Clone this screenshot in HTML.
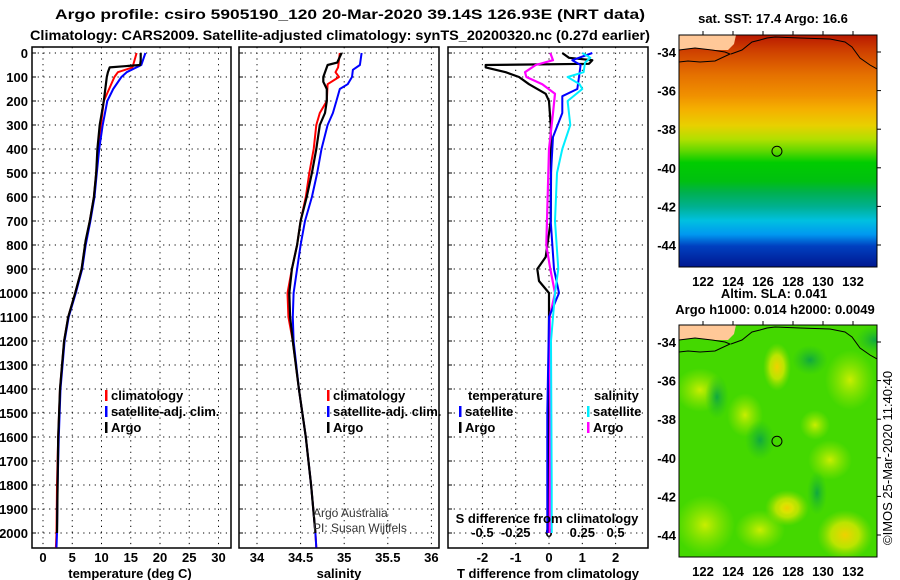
<!DOCTYPE html>
<html><head><meta charset="utf-8">
<style>
html,body{margin:0;padding:0;background:#fff;}
svg{display:block;font-family:"Liberation Sans",sans-serif;}
.b{font-weight:bold;font-size:13px;fill:#000;}
.t{font-weight:bold;font-size:14px;fill:#000;}
</style></head>
<body>
<svg id="fig" width="900" height="580" viewBox="0 0 900 580">
<text class="t" x="350" y="19" text-anchor="middle" textLength="590" lengthAdjust="spacingAndGlyphs">Argo profile: csiro 5905190_120 20-Mar-2020 39.14S 126.93E (NRT data)</text>
<text class="t" x="340" y="40" text-anchor="middle" textLength="620" lengthAdjust="spacingAndGlyphs">Climatology: CARS2009. Satellite-adjusted climatology: synTS_20200320.nc (0.27d earlier)</text>
<defs>
<linearGradient id="sstg" x1="0" y1="0" x2="0" y2="1">
<stop offset="0" stop-color="#b81800"/><stop offset="0.06" stop-color="#cc3c00"/>
<stop offset="0.11" stop-color="#d85400"/><stop offset="0.17" stop-color="#e57000"/>
<stop offset="0.26" stop-color="#f09000"/><stop offset="0.32" stop-color="#f5b000"/>
<stop offset="0.39" stop-color="#e8d000"/><stop offset="0.45" stop-color="#b0e000"/>
<stop offset="0.5" stop-color="#60d800"/><stop offset="0.55" stop-color="#00cc00"/>
<stop offset="0.63" stop-color="#00c010"/><stop offset="0.68" stop-color="#00b050"/>
<stop offset="0.74" stop-color="#00b090"/><stop offset="0.8" stop-color="#00c0e0"/>
<stop offset="0.86" stop-color="#0098f0"/><stop offset="0.91" stop-color="#0040c0"/>
<stop offset="1" stop-color="#001890"/>
</linearGradient>
<radialGradient id="yel"><stop offset="0" stop-color="#f0d000"/><stop offset="0.5" stop-color="#d8e800" stop-opacity="0.8"/><stop offset="1" stop-color="#9be000" stop-opacity="0"/></radialGradient>
<radialGradient id="ylg"><stop offset="0" stop-color="#c8ee00"/><stop offset="1" stop-color="#a0e800" stop-opacity="0"/></radialGradient>
<radialGradient id="dkg"><stop offset="0" stop-color="#10a840"/><stop offset="1" stop-color="#22c020" stop-opacity="0"/></radialGradient>
</defs>
<g id="plots"></g>
<g id="maps"></g>
<text x="313" y="517" font-size="12" fill="#333">Argo Australia</text>
<text x="313" y="532" font-size="12" fill="#333">PI: Susan Wijffels</text>
<text transform="translate(892,545) rotate(-90)" font-size="13" fill="#000">©IMOS 25-Mar-2020 11:40:40</text>
</svg>
<script>
// ---------- data ----------
const depthTicks=[0,100,200,300,400,500,600,700,800,900,1000,1100,1200,1300,1400,1500,1600,1700,1800,1900,2000];
const tempTicks=[0,5,10,15,20,25,30];
const salTicks=[34,34.5,35,35.5,36];
const salTickLabels=["34","34.5","35","35.5","36"];
const tdTicks=[-2,-1,0,1,2];
const sdTicks=[-0.5,-0.25,0,0.25,0.5];
const sdTickLabels=["-0.5","-0.25","0","0.25","0.5"];

const argoTP=[0,30,50,55,60,80,100,200,300,400,500,600,700,780,900,1000,1100,1200,1400,1600,1800,2000];
const argoT=[16.7,16.7,16.6,14,11.4,11.1,10.9,10.4,9.7,9.3,9.1,8.7,8.0,7.3,6.6,5.5,4.3,3.6,2.9,2.6,2.5,2.4];
const climTP=[0,60,80,100,150,200,300,400,500,600,700,800,900,1000,1100,1200,1400,1600,1800,2000,2060];
const climT=[16,15.3,12.8,12.2,11.3,10.4,9.9,9.4,9.1,8.7,8.0,7.2,6.6,5.5,4.3,3.6,2.9,2.6,2.4,2.3,2.2];
const satTP=[0,50,80,100,150,200,300,400,500,600,700,800,900,1000,1100,1200,1400,1600,1800,2000,2060];
const satT=[17.5,16.8,14.3,13.4,12,11,10.2,9.6,9.2,8.8,8.1,7.3,6.7,5.6,4.4,3.7,3.0,2.7,2.5,2.4,2.3];

const argoSP=[0,40,50,100,120,150,200,250,300,400,500,600,700,800,900,1000,1100,1200,1400,1600,1800,2000];
const argoS=[34.97,34.92,34.81,34.76,34.76,34.8,34.8,34.78,34.72,34.68,34.63,34.57,34.5,34.46,34.4,34.37,34.38,34.41,34.48,34.56,34.62,34.67];
const climSP=[0,60,80,100,130,200,250,300,400,500,600,700,800,900,1000,1100,1200,1400,1600,1800,2000,2060];
const climS=[34.95,34.93,34.9,34.94,34.81,34.8,34.72,34.68,34.65,34.6,34.56,34.5,34.46,34.4,34.35,34.36,34.41,34.48,34.56,34.62,34.67,34.68];
const satSP=[0,50,70,100,130,150,200,250,300,400,500,600,700,800,900,1000,1100,1200,1400,1600,1800,2000,2060];
const satS=[35.2,35.18,35.1,35.09,35.04,34.95,34.91,34.87,34.81,34.74,34.69,34.63,34.55,34.5,34.46,34.42,34.41,34.42,34.48,34.56,34.62,34.67,34.68];

const dTargoP=[0,20,30,45,50,60,80,100,130,170,200,300,500,700,850,900,950,1000,1100,1500,2000];
const dTargo=[0.4,0.6,1.3,1.2,-1.9,-1.9,-1.3,-0.9,-0.6,-0.1,0,0.05,0.06,0.05,-0.1,-0.35,-0.3,0,0,0,0];
const dTsatP=[0,30,50,100,150,180,250,350,500,700,900,1000,1100,1500,2000];
const dTsat=[1.3,0.7,0.95,0.9,0.85,0.4,0.4,0.12,0.06,0.05,0.15,0.3,0,-0.05,-0.05];
const dSargoP=[0,30,50,80,100,130,170,250,400,800,900,1000,1100,1500,2000];
const dSargo=[0.01,0.03,-0.1,-0.18,-0.17,-0.05,0.045,0.03,0,-0.02,0.01,0.045,0.005,0.01,0.005];
const dSsatP=[0,20,40,80,100,130,150,200,300,400,500,700,900,1000,1200,1800,2000];
const dSsat=[0.25,0.31,0.27,0.26,0.14,0.23,0.25,0.14,0.16,0.1,0.06,0.045,0.07,0.045,0.015,0.02,0.02];

// ---------- helpers ----------
const NS="http://www.w3.org/2000/svg";
function mk(tag,attrs,parent){const e=document.createElementNS(NS,tag);for(const k in attrs)e.setAttribute(k,attrs[k]);parent.appendChild(e);return e;}
const plots=document.getElementById('plots');
const yOf=d=>53+d*0.24;
const xT=t=>43+5.85*t;
const xS=s=>257+87.2*(s-34);
const xTD=d=>549+33.3*d;
const xSD=d=>549+133.2*d;
const panels=[{x0:32,x1:231,name:'temperature-panel'},{x0:239,x1:439,name:'salinity-panel'},{x0:448,x1:648,name:'difference-panel'}];
const TOP=47,BOT=548;

panels.forEach((p,i)=>{
  const g=mk('g',{},plots);
  
  
  depthTicks.forEach(d=>{
    const l=mk('line',{x1:p.x0,x2:p.x1,y1:yOf(d),y2:yOf(d),stroke:'#000','stroke-width':1,'stroke-dasharray':'1.2,4.5'},g);
    
    
    const tk=mk('line',{x1:p.x0,x2:p.x0+4,y1:yOf(d),y2:yOf(d),stroke:'#000'},g);
    
    
  });
  const fr=mk('rect',{x:p.x0,y:TOP,width:p.x1-p.x0,height:BOT-TOP,fill:'none',stroke:'#000','stroke-width':1.5},g);
  
  
});

depthTicks.forEach(d=>{
  const t=mk('text',{x:28,y:yOf(d)+5,'text-anchor':'end',class:'b'},plots);
  t.textContent=d;
  
  
});

function vgrid(vals,fx,labels,ly){
  vals.forEach((v,i)=>{
    const l=mk('line',{x1:fx(v),x2:fx(v),y1:TOP,y2:BOT,stroke:'#000','stroke-dasharray':'1.2,4.5'},plots);
    
    
    if(labels){
      const t=mk('text',{x:fx(v),y:ly,'text-anchor':'middle',class:'b'},plots);
      t.textContent=labels[i];
      
      
    }
  });
}
vgrid(tempTicks,xT,tempTicks.map(String),562);
vgrid(salTicks,xS,salTickLabels,562);
vgrid(tdTicks,xTD,tdTicks.map(String),562);
sdTicks.forEach((v,i)=>{
  const t=mk('text',{x:xSD(v),y:537,'text-anchor':'middle',class:'b'},plots);
  t.textContent=sdTickLabels[i];
  
  
});

function line(P,V,fx,color,w,name){
  const pts=P.map((d,i)=>fx(V[i]).toFixed(1)+','+yOf(d).toFixed(1)).join(' ');
  const l=mk('polyline',{points:pts,fill:'none',stroke:color,'stroke-width':w,'stroke-linejoin':'round'},plots);
  
  
}
line(climTP,climT,xT,'#ff0000',2,'temp-climatology-line');
line(satTP,satT,xT,'#0000ff',2,'temp-satellite-line');
line(argoTP,argoT,xT,'#000',2.2,'temp-argo-line');
line(climSP,climS,xS,'#ff0000',2,'sal-climatology-line');
line(satSP,satS,xS,'#0000ff',2,'sal-satellite-line');
line(argoSP,argoS,xS,'#000',2.2,'sal-argo-line');
line(dTargoP,dTargo,xTD,'#000',2.2,'tdiff-argo-line');
line(dSargoP,dSargo,xSD,'#ff00ff',2.2,'sdiff-argo-line');
line(dTsatP,dTsat,xTD,'#0000ff',2,'tdiff-satellite-line');
line(dSsatP,dSsat,xSD,'#00eeff',2,'sdiff-satellite-line');

function leg(x,y,color,label,name){
  if(color){const r=mk('rect',{x:x,y:y-10,width:2.5,height:11,fill:color},plots);
    
    }
  const t=mk('text',{x:x+6,y:y,class:'b'},plots);
  t.textContent=label;
  
  
}
leg(105,400,'#ff0000','climatology','legend-climatology');
leg(105,416,'#0000ff','satellite-adj. clim.','legend-satellite');
leg(105,432,'#000','Argo','legend-argo');
leg(327,400,'#ff0000','climatology','legend-climatology-2');
leg(327,416,'#0000ff','satellite-adj. clim.','legend-satellite-2');
leg(327,432,'#000','Argo','legend-argo-2');
leg(462,400,null,'temperature','legend-temperature-heading');
leg(459,416,'#0000ff','satellite','legend-t-satellite');
leg(459,432,'#000','Argo','legend-t-argo');
leg(588,400,null,'salinity','legend-salinity-heading');
leg(587,416,'#00eeff','satellite','legend-s-satellite');
leg(587,432,'#ff00ff','Argo','legend-s-argo');

function txt(x,y,s,name,anchor){const t=mk('text',{x:x,y:y,class:'b','text-anchor':anchor||'middle'},plots);t.textContent=s;
  
  }
txt(547,523,'S difference from climatology','s-diff-axis-title');
txt(130,578,'temperature (deg C)','temp-axis-title');
txt(339,578,'salinity','sal-axis-title');
txt(548,578,'T difference from climatology','t-diff-axis-title');

// ---------- maps ----------
const maps=document.getElementById('maps');
const lonTicks=[122,124,126,128,130,132];
const latTicks=[-34,-36,-38,-40,-42,-44];
const lonX=l=>679+(l-120.4)*15;
const latY=(l,oy)=>oy+52+(-34-l)*19.3;
function drawMap(oy,kind){
  const g=mk('g',{},maps);
  
  
  const cp=mk('clipPath',{id:'cp'+kind},g);
  mk('rect',{x:679,y:oy+35,width:198,height:232},cp);
  const inner=mk('g',{'clip-path':'url(#cp'+kind+')'},g);
  if(kind==='sst'){
    mk('rect',{x:679,y:oy+35,width:198,height:232,fill:'url(#sstg)'},inner);
  } else {
    mk('rect',{x:679,y:oy+35,width:198,height:232,fill:'#44d800'},inner);
    [[705,oy+235,30,30,'ylg'],[700,oy+100,25,22,'ylg'],[850,oy+90,25,30,'ylg'],[845,oy+245,28,25,'yel'],[745,oy+125,18,22,'ylg'],[830,oy+170,22,20,'ylg'],[815,oy+135,15,15,'ylg'],[760,oy+240,25,20,'ylg']].forEach(b=>mk('ellipse',{cx:b[0],cy:b[1],rx:b[2],ry:b[3],fill:'url(#'+b[4]+')'},inner));
    [[777,oy+77,14,24,'yel'],[787,oy+218,22,18,'yel'],[787,oy+218,12,10,'yel']].forEach(b=>mk('ellipse',{cx:b[0],cy:b[1],rx:b[2],ry:b[3],fill:'url(#'+b[4]+')'},inner));
    [[717,oy+107,12,22,'dkg'],[817,oy+203,10,22,'dkg'],[875,oy+50,20,15,'dkg'],[760,oy+150,15,20,'dkg'],[810,oy+70,18,15,'dkg']].forEach(b=>mk('ellipse',{cx:b[0],cy:b[1],rx:b[2],ry:b[3],fill:'url(#'+b[4]+')'},inner));
  }
  const land=mk('polygon',{points:`679,${oy+35} 736,${oy+35} 734,${oy+44} 728,${oy+50} 715,${oy+50} 695,${oy+48} 679,${oy+50}`,fill:'#ffc898'},inner);
  
  
  const coast=mk('polyline',{points:`679,${oy+50} 695,${oy+48} 712,${oy+50} 725,${oy+52} 730,${oy+54} 715,${oy+61} 700,${oy+62} 688,${oy+61} 679,${oy+62}`,fill:'none',stroke:'#000','stroke-width':1},inner);
  
  
  const coast2=mk('polyline',{points:`731,${oy+54} 742,${oy+50} 752,${oy+42} 760,${oy+40} 767,${oy+38} 775,${oy+37} 800,${oy+38} 830,${oy+39} 845,${oy+42} 852,${oy+47} 860,${oy+58} 870,${oy+65} 877,${oy+69}`,fill:'none',stroke:'#000','stroke-width':1},inner);
  
  
  const c=mk('circle',{cx:lonX(126.93),cy:latY(-39.14,oy),r:5,fill:'none',stroke:'#000','stroke-width':1},g);
  
  
  const f=mk('rect',{x:679,y:oy+35,width:198,height:232,fill:'none',stroke:'#000','stroke-width':1},g);
  
  
  lonTicks.forEach(l=>{
    mk('line',{x1:lonX(l),x2:lonX(l),y1:oy+31,y2:oy+35,stroke:'#000'},g);
    const t=mk('text',{x:lonX(l),y:oy+286,'text-anchor':'middle',class:'b'},g);
    t.textContent=l;
    
    
  });
  latTicks.forEach(l=>{
    mk('line',{x1:877,x2:881,y1:latY(l,oy),y2:latY(l,oy),stroke:'#000'},g);
    const t=mk('text',{x:676,y:latY(l,oy)+5,class:'b','text-anchor':'end'},g);
    t.textContent=l;
    
    
  });
}
drawMap(0,'sst');
drawMap(290,'sla');
function mt(x,y,s,name){const t=mk('text',{x:x,y:y,class:'b','text-anchor':'middle'},maps);t.textContent=s;
  
  }
mt(773,23,'sat. SST: 17.4 Argo: 16.6','sst-map-title');
mt(774,298,'Altim. SLA: 0.041','sla-map-title');
mt(775,314,'Argo h1000: 0.014 h2000: 0.0049','sla-map-subtitle');
</script>
</body></html>
